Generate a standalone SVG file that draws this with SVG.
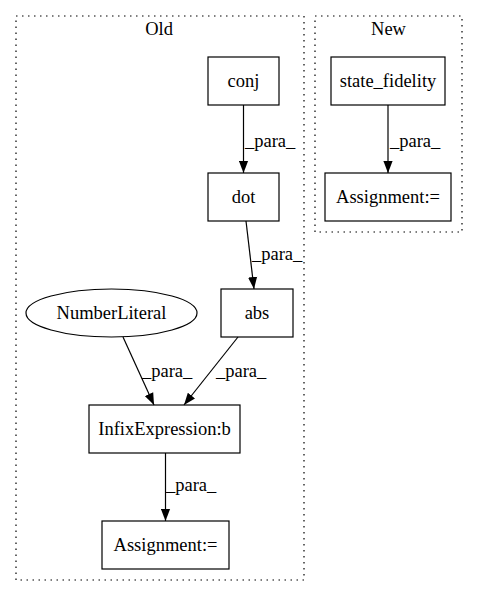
<svg xmlns="http://www.w3.org/2000/svg" width="477" height="596" viewBox="0 0 477 596">
<style>
text{font-family:'Liberation Serif','DejaVu Serif','Times New Roman',Times,serif;font-size:18.5px;fill:#000}
.n{fill:none;stroke:#000;stroke-width:1.2}
.c{fill:none;stroke:#000;stroke-width:1.2;stroke-dasharray:1.5,4.5}
.e{fill:none;stroke:#000;stroke-width:1.2;marker-end:url(#arr)}
.m{text-anchor:middle}
</style>
<defs>
<marker id="arr" markerUnits="userSpaceOnUse" markerWidth="12" markerHeight="10" viewBox="0 0 12 10" refX="12" refY="5" orient="auto">
<path d="M0,0.4 L12,5 L0,9.6 z" fill="#000"/>
</marker>
</defs>
<rect width="477" height="596" fill="#fff"/>
<g id="cluster_old">
<rect class="c" x="16" y="16" width="288" height="564"/>
<text class="m" x="159" y="35">Old</text>
</g>
<g id="cluster_new">
<rect class="c" x="315" y="16" width="147" height="216"/>
<text class="m" x="388.5" y="35">New</text>
</g>
<g id="conj"><rect class="n" x="208" y="57" width="71" height="48"/><text class="m" x="243.5" y="87">conj</text></g>
<g id="dot"><rect class="n" x="208" y="173" width="71" height="48"/><text class="m" x="243.5" y="203">dot</text></g>
<g id="abs"><rect class="n" x="221" y="289" width="72" height="48"/><text class="m" x="257" y="319">abs</text></g>
<g id="numberliteral"><ellipse class="n" cx="111.5" cy="313" rx="85.5" ry="24"/><text class="m" x="111.5" y="319">NumberLiteral</text></g>
<g id="infix"><rect class="n" x="89" y="405" width="151" height="48"/><text class="m" x="164.5" y="435">InfixExpression:b</text></g>
<g id="assign_old"><rect class="n" x="102" y="521" width="127" height="48"/><text class="m" x="165.5" y="551">Assignment:=</text></g>
<g id="state_fidelity"><rect class="n" x="331" y="57" width="114" height="48"/><text class="m" x="388" y="87">state_fidelity</text></g>
<g id="assign_new"><rect class="n" x="325" y="173" width="126" height="48"/><text class="m" x="388" y="203">Assignment:=</text></g>
<g id="edges">
<path class="e" d="M243.5,105 L243.5,173"/>
<text x="245" y="147">_para_</text>
<path class="e" d="M246,221 L254,289"/>
<text x="252" y="260">_para_</text>
<path class="e" d="M123,337 L154,405"/>
<text x="142" y="377">_para_</text>
<path class="e" d="M238,337 L184,405"/>
<text x="216" y="377">_para_</text>
<path class="e" d="M165.5,453 L165.5,521"/>
<text x="166" y="491">_para_</text>
<path class="e" d="M388,105 L388,173"/>
<text x="390" y="147">_para_</text>
</g>
</svg>
